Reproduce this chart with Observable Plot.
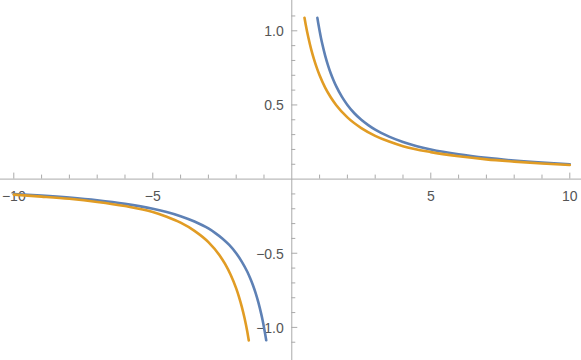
<!DOCTYPE html>
<html>
<head>
<meta charset="utf-8">
<script src="https://cdn.jsdelivr.net/npm/d3@7"></script>
<script src="https://cdn.jsdelivr.net/npm/@observablehq/plot@0.6"></script>
<style>
  html, body { margin: 0; padding: 0; background: #fff; }
  #chart svg { display: block; }
</style>
</head>
<body>
<div id="chart"></div>
<script>
// Blue series, two branches
const blueRightX = [0.92, 0.95, 1.0, 1.05, 1.1, 1.2, 1.3, 1.4, 1.5, 1.6, 1.8, 2.0, 2.25, 2.5, 2.75, 3.0, 3.5, 4.0, 4.5, 5.0, 6.0, 7.0, 8.0, 9.0, 10.0];
const blueRightY = [1.087, 1.053, 1.0, 0.952, 0.909, 0.833, 0.769, 0.714, 0.667, 0.625, 0.556, 0.5, 0.444, 0.4, 0.364, 0.333, 0.286, 0.25, 0.222, 0.2, 0.167, 0.143, 0.125, 0.111, 0.1];
const blueLeftX = [-10.0, -9.0, -8.0, -7.0, -6.0, -5.0, -4.5, -4.0, -3.5, -3.0, -2.75, -2.5, -2.25, -2.0, -1.8, -1.6, -1.5, -1.4, -1.3, -1.2, -1.1, -1.05, -1.0, -0.95, -0.92];
const blueLeftY = [-0.1, -0.111, -0.125, -0.143, -0.167, -0.2, -0.222, -0.25, -0.286, -0.333, -0.364, -0.4, -0.444, -0.5, -0.556, -0.625, -0.667, -0.714, -0.769, -0.833, -0.909, -0.952, -1.0, -1.053, -1.087];

// Orange series, two branches
const orangeRightX = [0.457, 0.5, 0.6, 0.7, 0.8, 0.9, 1.0, 1.2, 1.4, 1.6, 2.0, 2.5, 3.0, 3.5, 4.0, 5.0, 6.0, 7.0, 8.0, 9.0, 10.0];
const orangeRightY = [1.088, 1.043, 0.951, 0.873, 0.807, 0.750, 0.700, 0.617, 0.552, 0.498, 0.416, 0.344, 0.292, 0.253, 0.222, 0.182, 0.154, 0.133, 0.118, 0.105, 0.095];
const orangeLeftX = [-10.0, -9.0, -8.0, -7.0, -6.0, -5.0, -4.5, -4.0, -3.5, -3.0, -2.6, -2.4, -2.2, -2.0, -1.9, -1.8, -1.7, -1.6, -1.547];
const orangeLeftY = [-0.105, -0.118, -0.133, -0.154, -0.182, -0.222, -0.254, -0.294, -0.349, -0.425, -0.513, -0.572, -0.645, -0.737, -0.794, -0.860, -0.937, -1.030, -1.088];

// Tick positions and labels
const xMajorTicks = [-10, -5, 5, 10];
const xMinorTicks = [-9, -8, -7, -6, -4, -3, -2, -1, 1, 2, 3, 4, 6, 7, 8, 9];
const xTickLabels = ["\u221210", "\u22125", "5", "10"];
const yMajorTicks = [-1.0, -0.5, 0.5, 1.0];
const yMinorTicks = [-1.1, -0.9, -0.8, -0.7, -0.6, -0.4, -0.3, -0.2, -0.1, 0.1, 0.2, 0.3, 0.4, 0.6, 0.7, 0.8, 0.9, 1.1];
const yTickLabels = ["\u22121.0", "\u22120.5", "0.5", "1.0"];

const W = 581, H = 360;
const xDomain = [-10.478, 10.421];
const yDomain = [-1.2232, 1.2043];
const pxX = (xDomain[1] - xDomain[0]) / W; // data units per pixel
const pxY = (yDomain[1] - yDomain[0]) / H;

const toPts = (xs, ys) => xs.map((x, i) => ({x, y: ys[i]}));
const blueL = toPts(blueLeftX, blueLeftY), blueR = toPts(blueRightX, blueRightY);
const orL = toPts(orangeLeftX, orangeLeftY), orR = toPts(orangeRightX, orangeRightY);

const blue = "#5E81B5", orange = "#E19C24";
const axisColor = "#aaaaaa", labelColor = "#555555";
const font = "Liberation Sans, Arial, sans-serif";

const chart = Plot.plot({
  width: W, height: H, margin: 0,
  style: {fontFamily: font, background: "#fff"},
  x: {domain: xDomain, axis: null},
  y: {domain: yDomain, axis: null},
  marks: [
    Plot.ruleY([0], {stroke: axisColor, strokeWidth: 1}),
    Plot.ruleX([0], {stroke: axisColor, strokeWidth: 1}),
    Plot.ruleX(xMajorTicks, {x: d => d, y1: 0, y2: 6 * pxY, stroke: axisColor}),
    Plot.ruleX(xMinorTicks, {x: d => d, y1: 0, y2: 4 * pxY, stroke: axisColor}),
    Plot.ruleY(yMajorTicks, {y: d => d, x1: 0, x2: 6 * pxX, stroke: axisColor}),
    Plot.ruleY(yMinorTicks, {y: d => d, x1: 0, x2: 4 * pxX, stroke: axisColor}),
    Plot.text(xMajorTicks, {x: d => d, y: 0, text: (d, i) => xTickLabels[i], dy: 17, fill: labelColor, fontSize: 14, fontFamily: font}),
    Plot.text(yMajorTicks, {x: 0, y: d => d, text: (d, i) => yTickLabels[i], dx: -8, dy: 1, textAnchor: "end", fill: labelColor, fontSize: 14, fontFamily: font}),
    Plot.line(blueL, {x: "x", y: "y", stroke: blue, strokeWidth: 2.6, curve: "monotone-x"}),
    Plot.line(blueR, {x: "x", y: "y", stroke: blue, strokeWidth: 2.6, curve: "monotone-x"}),
    Plot.line(orL, {x: "x", y: "y", stroke: orange, strokeWidth: 2.6, curve: "monotone-x"}),
    Plot.line(orR, {x: "x", y: "y", stroke: orange, strokeWidth: 2.6, curve: "monotone-x"})
  ]
});
document.getElementById("chart").append(chart);
</script>
</body>
</html>
